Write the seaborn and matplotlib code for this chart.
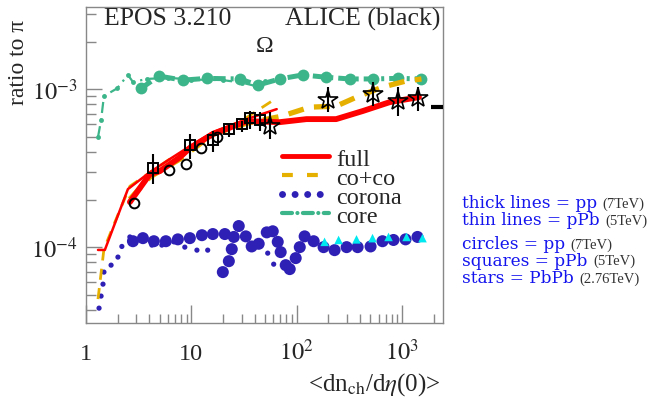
import matplotlib
matplotlib.use("Agg")
from matplotlib import pyplot as plt
from matplotlib.lines import Line2D
from matplotlib.ticker import FixedLocator, FixedFormatter, NullFormatter
import seaborn as sns

# ---- model curves (EPOS) ----
full_thin_x = [1.30, 1.51, 2.50, 4.04, 6.25, 9.68, 16.0, 33.6, 64.6]
full_thin_y = [9.6e-5, 9.6e-5, 2.33e-4, 2.98e-4, 3.61e-4, 4.35e-4, 5.35e-4, 6.46e-4, 7.47e-4]
full_thick_x = [2.61, 4.04, 5.03, 7.8, 9.68, 16.0, 33.6, 69, 124, 237, 422, 764, 1450]
full_thick_y = [1.93e-4, 2.90e-4, 3.03e-4, 3.71e-4, 4.24e-4, 5.19e-4, 6.27e-4, 6.18e-4,
                6.46e-4, 6.46e-4, 7.26e-4, 8.27e-4, 8.9e-4]

coco_thin_x = [1.30, 1.48, 1.88, 2.61, 6.25, 9.68, 16.0, 30.0, 62.0]
coco_thin_y = [4.69e-5, 9.71e-5, 1.44e-4, 2.43e-4, 3.61e-4, 4.17e-4, 5.25e-4, 6.3e-4, 8.64e-4]
coco_thick_x = [2.61, 4.04, 7.8, 16.0, 33.6, 72, 133, 237, 370, 653, 1060, 1530]
coco_thick_y = [2.01e-4, 2.78e-4, 3.61e-4, 5.19e-4, 6.09e-4, 6.74e-4, 7.69e-4, 7.80e-4,
                8.9e-4, 1.03e-3, 1.12e-3, 1.16e-3]

core_thin_x = [1.30, 1.39, 1.48, 1.97, 2.50, 2.79, 3.79, 6.0, 10.0, 20.0, 30.0, 40.0, 50.0]
core_thin_y = [4.97e-4, 6.37e-4, 9.04e-4, 1.01e-3, 1.23e-3, 1.11e-3, 1.16e-3, 1.18e-3,
               1.15e-3, 1.14e-3, 1.10e-3, 1.05e-3, 1.12e-3]
core_thick_x = [3.32, 4.92, 8.3, 14.0, 28.8, 42.7, 69, 114, 188, 318, 525, 926, 1530]
core_thick_y = [1.01e-3, 1.21e-3, 1.14e-3, 1.17e-3, 1.16e-3, 1.06e-3, 1.16e-3, 1.23e-3,
                1.19e-3, 1.16e-3, 1.16e-3, 1.17e-3, 1.16e-3]

corona_thin_x = [1.33, 1.39, 1.45, 1.48, 1.73, 2.01, 2.19, 2.61, 4.22, 5.25, 6.82, 8.67,
                 11.3, 14.3, 53.1, 60.5]
corona_thin_y = [4.11e-5, 4.90e-5, 5.83e-5, 6.95e-5, 7.69e-5, 8.65e-5, 1.01e-4, 1.16e-4,
                 1.03e-4, 1.03e-4, 1.08e-4, 1.0e-4, 9.57e-5, 9.57e-5, 9.16e-5, 7.80e-5]
corona_thick_x = [2.79, 3.47, 4.41, 5.73, 7.45, 9.68, 12.6, 16.0, 20.8, 19.9, 22.7, 24.2,
                  25.3, 28.2, 32.9, 37.4, 43.6, 52.0, 59.3, 66.1, 70.5, 78.7, 85.9, 97.9,
                  107, 119, 145, 180, 229, 298, 379, 503, 653, 830, 1080, 1403]
corona_thick_y = [1.09e-4, 1.14e-4, 1.09e-4, 1.09e-4, 1.12e-4, 1.14e-4, 1.19e-4, 1.21e-4,
                  1.21e-4, 6.95e-5, 8.15e-5, 9.71e-5, 1.16e-4, 1.36e-4, 1.17e-4, 1.01e-4,
                  1.05e-4, 1.24e-4, 1.26e-4, 1.08e-4, 9.30e-5, 7.69e-5, 7.26e-5, 8.52e-5,
                  1.0e-4, 1.17e-4, 1.09e-4, 1.0e-4, 9.57e-5, 1.0e-4, 1.0e-4, 1.01e-4,
                  1.09e-4, 1.11e-4, 1.12e-4, 1.16e-4]
corona_pbpb_x = [184, 250, 370, 525, 745, 1104, 1565]
corona_pbpb_y = [1.08e-4, 1.11e-4, 1.12e-4, 1.14e-4, 1.16e-4, 1.16e-4, 1.14e-4]

# ---- ALICE data ----
pp_x = [2.85, 6.12, 8.87, 12.3, 17.4]
pp_y = [1.90e-4, 3.07e-4, 3.35e-4, 4.24e-4, 4.97e-4]

ppb_x = [4.32, 9.68, 16.0, 22.7, 30.1, 35.8, 44.6]
ppb_y = [3.16e-4, 4.43e-4, 4.76e-4, 5.58e-4, 6.0e-4, 6.55e-4, 6.37e-4]
ppb_lo = [2.51e-4, 3.61e-4, 3.99e-4, 4.97e-4, 5.35e-4, 5.58e-4, 5.42e-4]
ppb_hi = [3.88e-4, 5.19e-4, 5.42e-4, 6.0e-4, 6.27e-4, 7.26e-4, 7.15e-4]

pbpb_x = [55.5, 197, 525, 926, 1432]
pbpb_y = [5.83e-4, 8.52e-4, 9.30e-4, 8.39e-4, 8.77e-4]
pbpb_lo = [4.83e-4, 7.15e-4, 7.80e-4, 6.75e-4, 7.26e-4]
pbpb_hi = [7.15e-4, 1.03e-3, 1.11e-3, 1.03e-3, 1.03e-3]

ref_x = [2170]
ref_y = [7.7e-4]

RED = "#ff0000"
YEL = "#e6b000"
GRN = "#3db58a"
BLU = "#2e1fb5"
CYA = "#00e8f0"

sns.set_style("ticks")
plt.rcParams["font.family"] = ["Liberation Serif", "DejaVu Serif"]
plt.rcParams["mathtext.fontset"] = "stix"

fig = plt.figure(figsize=(6.62, 4.02), dpi=100)
ax = fig.add_axes([86 / 662, 78 / 402, 357 / 662, 316 / 402])
ax.set_xscale("log")
ax.set_yscale("log")


def line(x, y, **kw):
    sns.lineplot(x=x, y=y, sort=False, estimator=None, ax=ax, **kw)


# corona
sns.scatterplot(x=corona_thin_x, y=corona_thin_y, s=14, color=BLU, edgecolor="none", ax=ax)
sns.scatterplot(x=corona_thick_x, y=corona_thick_y, s=75, color=BLU, edgecolor="none", ax=ax)
sns.scatterplot(x=corona_pbpb_x, y=corona_pbpb_y, s=38, marker="^", color=CYA,
                edgecolor="none", ax=ax, zorder=1)

# core
line(core_thin_x, core_thin_y, color=GRN, lw=1.6, linestyle=(0, (5, 2.5, 1, 2.5)),
     marker="o", ms=3.5, mec=GRN, mew=0)
line(core_thick_x, core_thick_y, color=GRN, lw=3.6, linestyle=(0, (2.5, 1, 0.6, 1)),
     marker="o", ms=8.5, mec=GRN, mew=0)

# co+co
line(coco_thin_x, coco_thin_y, color=YEL, lw=2, linestyle=(0, (4, 3)))
line(coco_thick_x, coco_thick_y, color=YEL, lw=3.8, linestyle=(0, (3, 2)))

# full
line(full_thin_x, full_thin_y, color=RED, lw=1.8)
line(full_thick_x, full_thick_y, color=RED, lw=4.2)

# data
ax.plot(pp_x, pp_y, "o", mfc="none", mec="k", ms=7, mew=1.4, zorder=5)
ppb_err = [[v - lo for v, lo in zip(ppb_y, ppb_lo)], [hi - v for v, hi in zip(ppb_y, ppb_hi)]]
ax.errorbar(ppb_x, ppb_y, yerr=ppb_err, fmt="s", mfc="none", mec="k", ms=7.5, mew=1.4,
            ecolor="k", elinewidth=1.5, capsize=0, zorder=5)
pbpb_err = [[v - lo for v, lo in zip(pbpb_y, pbpb_lo)], [hi - v for v, hi in zip(pbpb_y, pbpb_hi)]]
ax.errorbar(pbpb_x, pbpb_y, yerr=pbpb_err, fmt="*", mfc="none", mec="k", ms=15, mew=1.2,
            ecolor="k", elinewidth=1.5, capsize=0, zorder=5)
ax.plot(ref_x, ref_y, marker="_", ms=8, mew=3, color="k", ls="none", zorder=5)

# axes
ax.set_xlim(1, 2450)
ax.set_ylim(3.31e-5, 3.31e-3)
ax.xaxis.set_major_locator(FixedLocator([1, 10, 100, 1000]))
ax.xaxis.set_major_formatter(FixedFormatter(["1", "10", "$10^{2}$", "$10^{3}$"]))
ax.xaxis.set_minor_locator(FixedLocator([k * 10 ** e for e in range(4) for k in range(2, 10)
                                         if k * 10 ** e < 2450]))
ax.xaxis.set_minor_formatter(NullFormatter())
ax.yaxis.set_major_locator(FixedLocator([1e-4, 1e-3]))
ax.yaxis.set_major_formatter(FixedFormatter(["$10^{-4}$", "$10^{-3}$"]))
ax.yaxis.set_minor_locator(FixedLocator([k * 10.0 ** e for e in (-5, -4, -3) for k in range(2, 10)]))
ax.yaxis.set_minor_formatter(NullFormatter())

ax.tick_params(axis="x", which="major", direction="in", length=13, width=1, color="#888888",
               labelsize=17.5, pad=26, top=False)
ax.tick_params(axis="x", which="minor", direction="in", length=6.5, width=1, color="#888888", top=False)
ax.tick_params(axis="y", which="major", direction="in", length=11.5, width=1, color="#888888",
               labelsize=17.5, pad=6, right=False)
ax.tick_params(axis="y", which="minor", direction="in", length=7, width=1, color="#888888", right=False)
plt.setp(ax.get_xticklabels(), va="baseline")
for sp in ax.spines.values():
    sp.set_color("#888888")
    sp.set_linewidth(1)
    sp.set_visible(True)

# text
ax.text(0.05, 0.965, "EPOS 3.210", transform=ax.transAxes, fontsize=18.5, va="center")
ax.text(0.557, 0.965, "ALICE (black)", transform=ax.transAxes, fontsize=18.5, va="center")
ax.text(0.50, 0.878, "Ω", transform=ax.transAxes, fontsize=17, va="center", ha="center")
fig.text(18 / 662, 1 - 62 / 402, "ratio to π", rotation=90, fontsize=17, ha="center", va="center")
fig.text(440 / 662, 1 - 385 / 402, r"<dn$_{\rm ch}$/d$\eta$(0)>", fontsize=18, ha="right", va="center")

handles = [
    Line2D([], [], color=RED, lw=3.5),
    Line2D([], [], color=YEL, lw=3, linestyle=(0, (2.6, 3.4))),
    Line2D([], [], color=BLU, lw=5, linestyle=(0, (0.01, 1.8)), dash_capstyle="round"),
    Line2D([], [], color=GRN, lw=3, linestyle=(0, (2.4, 1.3, 0.01, 1.3)), dash_capstyle="round"),
]
ax.legend(handles, ["full", "co+co", "corona", "core"], loc="upper left",
          bbox_to_anchor=(0.55, 0.555), frameon=False, fontsize=17.5, borderpad=0,
          borderaxespad=0, handlelength=1.9, handletextpad=0.3, labelspacing=-0.12)

notes = [("thick lines = pp", "(7TeV)", 204), ("thin lines = pPb", "(5TeV)", 221),
         ("circles = pp", "(7TeV)", 245), ("squares = pPb", "(5TeV)", 261),
         ("stars = PbPb", "(2.76TeV)", 279)]
for main, extra, ypix in notes:
    t = fig.text(462 / 662, 1 - ypix / 402, main, fontsize=12.2, color="#1414ee",
                 family="DejaVu Serif", va="center")
    ax.annotate(extra, xy=(1, 0), xycoords=t, xytext=(4, 1), textcoords="offset points",
                fontsize=10.5, color="#333333", va="bottom", annotation_clip=False)

fig.savefig("out.png", dpi=100)
